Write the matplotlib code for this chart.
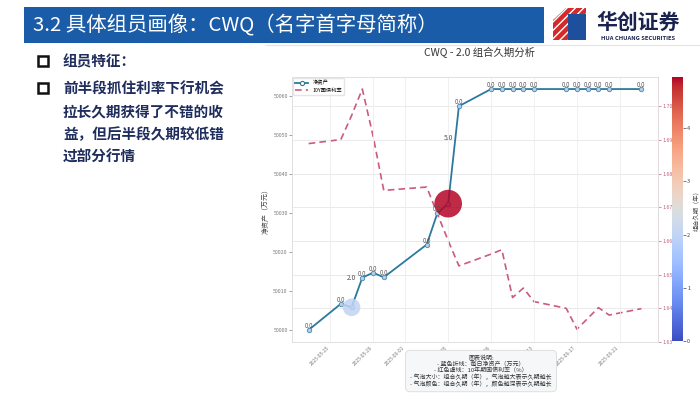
import matplotlib
matplotlib.use('Agg')
import matplotlib.pyplot as plt
import matplotlib.dates as mdates
from matplotlib.patches import Rectangle, Polygon
from matplotlib.lines import Line2D
import pandas as pd

plt.rcParams['font.family'] = ['Noto Sans CJK SC', 'DejaVu Sans']
plt.rcParams['axes.unicode_minus'] = False

# 数据
dates = pd.to_datetime([
    '2025-05-23', '2025-05-26', '2025-05-27', '2025-05-28', '2025-05-29', '2025-05-30',
    '2025-06-03', '2025-06-04', '2025-06-05', '2025-06-06',
    '2025-06-09', '2025-06-10', '2025-06-11', '2025-06-12', '2025-06-13',
    '2025-06-16', '2025-06-17', '2025-06-18', '2025-06-19', '2025-06-20',
    '2025-06-23'])
net_assets = [50000.0, 50006.7, 50005.8, 50013.4, 50014.7, 50013.5,
              50021.9, 50030.0, 50032.4, 50057.4,
              50061.8, 50061.8, 50061.8, 50061.8, 50061.8,
              50061.8, 50061.8, 50061.8, 50061.8, 50061.8,
              50061.8]
bond_yield = [1.6889, 1.6901, 1.6972, 1.7051, 1.6912, 1.6750,
              1.6760, 1.6680, 1.6601, 1.6526,
              1.6561, 1.6574, 1.6432, 1.6460, 1.6420,
              1.6400, 1.6338, 1.6370, 1.6402, 1.6380,
              1.6399]
duration = [0.0, 0.0, 2.0, 0.0, 0.0, 0.0,
            0.0, 0.0, 4.96, 0.0,
            0.0, 0.0, 0.0, 0.0, 0.0,
            0.0, 0.0, 0.0, 0.0, 0.0,
            0.0]

page_title = '3.2 具体组员画像：CWQ（名字首字母简称）'
bullet_lines = [['组员特征：'],
                ['前半段抓住利率下行机会', '拉长久期获得了不错的收',
                 '益，但后半段久期较低错', '过部分行情']]
chart_title = 'CWQ - 2.0 组合久期分析'
notes = ('图表说明:\n- 蓝色折线：每日净资产（万元）\n- 红色虚线：10年期国债利率（%）\n'
         '- 气泡大小：组合久期（年），气泡越大表示久期越长\n'
         '- 气泡颜色：组合久期（年），颜色越深表示久期越长')

fig = plt.figure(figsize=(7, 3.94), dpi=100)

# 背景层（像素坐标）
bg = fig.add_axes([0, 0, 1, 1])
bg.set_xlim(0, 700)
bg.set_ylim(394, 0)
bg.axis('off')

bg.add_patch(Rectangle((24, 7), 520, 36, fc='#1b5ca8', ec='none'))
bg.text(33, 25, page_title, color='white', fontsize=14.7, va='center', ha='left')

# logo
bg.add_patch(Polygon([(568, 14), (586, 14), (586, 40), (568, 40)], fc='#1d4f9c', ec='none'))
bg.add_patch(Polygon([(553, 40), (553, 20), (566, 8), (586, 8), (586, 14), (568, 14), (568, 40)],
                     fc='#d42a2a', ec='white', hatch='////', lw=0))
bg.text(638, 22, '华创证券', fontsize=15, fontweight='bold', color='#1a2350', ha='center', va='center')
bg.text(638, 38, 'HUA CHUANG SECURITIES', fontsize=4.2, fontweight='bold', color='#1a2350',
        ha='center', va='center')
bg.plot([266, 700], [44.5, 44.5], color='#e3e3e3', lw=0.8)

# 左侧文字
line_y = [[61], [88, 111, 134, 157]]
for lines, ys in zip(bullet_lines, line_y):
    bg.add_patch(Rectangle((38, ys[0] - 5), 10, 10, fc='none', ec='#111111', lw=1.8))
    for txt, yy in zip(lines, ys):
        bg.text(63, yy, txt, fontsize=10.5, fontweight='bold', color='#1f2d5c', va='center', ha='left')

# 图表
ax1 = fig.add_axes([292 / 700, 1 - 342 / 394, 366 / 700, 265 / 394])
ax2 = ax1.twinx()
cax = fig.add_axes([672 / 700, 1 - 341 / 394, 11 / 700, 264 / 394])

ax1.set_zorder(ax2.get_zorder() + 1)
ax1.patch.set_visible(False)

red = '#cc5a7e'
blue = '#2b7a9e'
ax2.plot(dates, bond_yield, color=red, ls='--', lw=1.2, dashes=(4, 2.5), label='10Y国债利率')
ax2.grid(True, axis='y', color='#e6e6e6', lw=0.6)
ax2.tick_params(axis='y', labelsize=3.8, colors='#c0607f', length=2, width=0.5, pad=1)
ax2.set_yticks([1.63, 1.64, 1.65, 1.66, 1.67, 1.68, 1.69, 1.70])

ax1.plot(dates, net_assets, color=blue, lw=1.3, marker='o', ms=3.2, mfc='#b3cfe8', mec='#4d86b0',
         mew=0.6, label='净资产')
sizes = [d * 80 for d in duration]
sc = ax1.scatter(dates, net_assets, s=sizes, c=duration, cmap='coolwarm', vmin=0, vmax=max(duration),
                 alpha=0.85, edgecolors='none', zorder=4)
for x, y, d in zip(dates, net_assets, duration):
    ax1.annotate(f'{d:.1f}', (x, y), xytext=(0, (4 + 12.5 * d) * 0.72), textcoords='offset points',
                 ha='center', va='center', fontsize=4.8 if d > 0 else 4.4, color='#555555', zorder=5)

ax1.xaxis.set_major_locator(mdates.DayLocator(bymonthday=[1, 5, 9, 13, 17, 21, 25, 29]))
ax1.xaxis.set_major_formatter(mdates.DateFormatter('%Y-%m-%d'))
ax1.grid(True, axis='x', color='#eeeeee', lw=0.6)
ax1.tick_params(axis='x', labelsize=3.5, colors='#777777', length=0, pad=2, labelrotation=45)
for lab in ax1.get_xticklabels():
    lab.set_ha('right')
ax1.tick_params(axis='y', labelsize=3.8, colors='#777777', length=2, width=0.5, pad=1)
ax1.set_ylabel('净资产（万元）', fontsize=5, color='#444444', labelpad=2)

for a in (ax1, ax2):
    for s in a.spines.values():
        s.set_color('#e0e0e0')
        s.set_linewidth(0.6)
ax2.spines['right'].set_color('#e8b8c6')

handles = [Line2D([], [], color=blue, lw=1.3, marker='o', ms=3, mfc='white', mec=blue, mew=0.8),
           Line2D([], [], color=red, lw=1.2, ls='--', dashes=(4, 2.5))]
ax1.legend(handles, ['净资产', '10Y国债利率'], loc='upper left', fontsize=3.8, frameon=True,
           borderaxespad=0.2, handlelength=2.5, framealpha=1, edgecolor='#e5e5e5')

cb = fig.colorbar(sc, cax=cax)
cb.solids.set_alpha(1)
cb.outline.set_visible(False)
cb.ax.tick_params(labelsize=4, length=2, width=0.5, colors='#444444', pad=1)
cb.set_label('组合久期（年）', fontsize=4.5, color='#444444', labelpad=2)

fig.text(480 / 700, 1 - 53 / 394, chart_title, ha='center', va='center', fontsize=7.5, color='#333333')
fig.text(481 / 700, 1 - 355 / 394, notes, ha='center', va='top', fontsize=4.3, color='#333333',
         linespacing=1.03, multialignment='center',
         bbox=dict(boxstyle='round,pad=0.8', fc='#f5f7f9', ec='#d5d5d5', lw=0.5))

fig.savefig('out.png', dpi=100)
